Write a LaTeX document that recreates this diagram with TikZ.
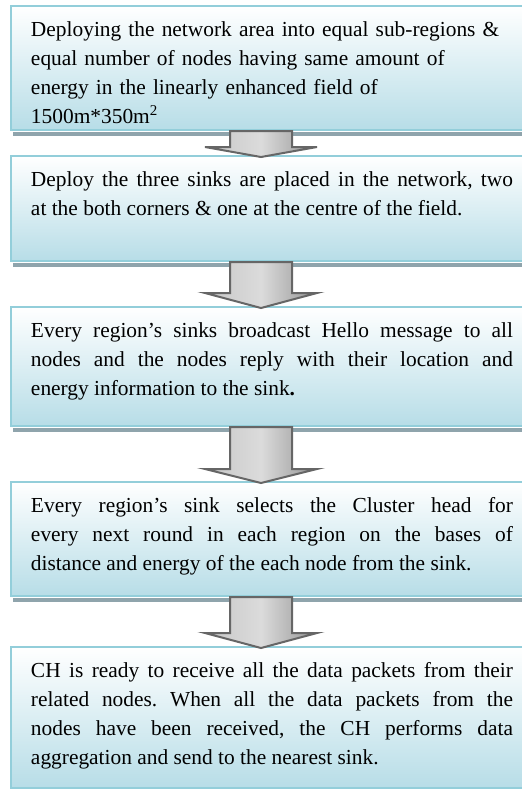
\documentclass[tikz,border=0pt]{standalone}
\usepackage{fontspec}
\setmainfont{Liberation Serif}
\usetikzlibrary{calc}
\definecolor{boxblue}{HTML}{B7DDE7}
\definecolor{boxedge}{HTML}{93CEDA}
\definecolor{boxband}{HTML}{8FA4AC}
\frenchspacing

\begin{document}
\begin{tikzpicture}[x=0.5pt,y=-0.5pt,
    stage/.style={anchor=north west, draw=boxedge, line width=1pt,
      top color=white, bottom color=boxblue,
      text width=241pt, inner xsep=10pt, inner ysep=0pt, text height=15pt,
      align=justify, font=\fontsize{10.7}{14.5}\selectfont},
    band/.style={fill=boxband},
    blockarrow/.style={draw=black!60, line width=1pt,
      left color=black!22, right color=black!42, middle color=black!14}]
  \useasboundingbox (0,0) rectangle (522,789);
  \clip (0,0) rectangle (522,789);
  \coordinate (ax) at (261,0);

  % the five stages
  \node[stage, align=left, text depth=47pt] (s1) at (10,5)
    {Deploying the network area into equal sub-regions \&\\
     equal number of nodes having same amount of\\
     energy in the linearly enhanced field of\\
     1500m*350m\textsuperscript{2}};
  \node[stage, text depth=37.5pt] (s2) at (10,155)
    {Deploy the three sinks are placed in the network, two\linebreak
     at the both corners \& one at the centre of the field.};
  \node[stage, text depth=44.5pt] (s3) at (10,306)
    {Every region’s sinks broadcast Hello message to all\linebreak
     nodes and the nodes reply with their location and\linebreak
     energy information to the sink\textbf{.}};
  \node[stage, text depth=42pt] (s4) at (10,481)
    {Every region’s sink selects the Cluster head for\linebreak
     every next round in each region on the bases of\linebreak
     distance and energy of the each node from the sink.};
  \node[stage, text depth=55.5pt] (s5) at (10,646)
    {CH is ready to receive all the data packets from their\linebreak
     related nodes. When all the data packets from the\linebreak
     nodes have been received, the CH performs data\linebreak
     aggregation and send to the nearest sink.};

  % shadow strip under each box
  \foreach \s in {s1,s2,s3,s4}
    \fill[band] ([xshift=1.5pt,yshift=-0.5pt]\s.south west) rectangle ([yshift=-2.5pt]\s.south east);

  % block arrows between the stages
  \foreach \a/\b/\h in {s1/s2/5pt, s2/s3/7.5pt, s3/s4/7pt, s4/s5/7.5pt}
    \path[blockarrow] let \p1=(ax |- \a.south), \p2=(ax |- \b.north) in
      ({\x1-15.5pt},\y1) -- ({\x1+15.5pt},\y1) -- ({\x1+15.5pt},{\y2-1pt+\h})
      -- ({\x1+28pt},{\y2-1pt+\h}) -- (\x1,{\y2-1pt})
      -- ({\x1-28pt},{\y2-1pt+\h}) -- ({\x1-15.5pt},{\y2-1pt+\h}) -- cycle;

\end{tikzpicture}
\end{document}
